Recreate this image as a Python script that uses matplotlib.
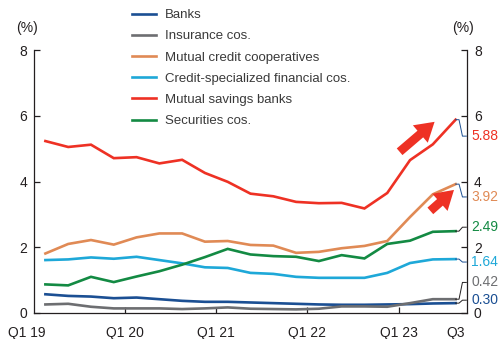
import numpy as np
import matplotlib.pyplot as plt
import matplotlib.transforms as mtransforms

# quarterly ratios (%), Q1 19 .. Q3 23
quarters = ["Q1 19", "Q2 19", "Q3 19", "Q4 19", "Q1 20", "Q2 20", "Q3 20", "Q4 20",
            "Q1 21", "Q2 21", "Q3 21", "Q4 21", "Q1 22", "Q2 22", "Q3 22", "Q4 22",
            "Q1 23", "Q2 23", "Q3 23"]
banks = [0.57, 0.52, 0.50, 0.45, 0.47, 0.42, 0.37, 0.34, 0.34, 0.32,
         0.30, 0.28, 0.26, 0.25, 0.25, 0.26, 0.27, 0.29, 0.30]
insurance = [0.26, 0.28, 0.19, 0.14, 0.14, 0.14, 0.12, 0.14, 0.17, 0.13,
             0.12, 0.11, 0.13, 0.20, 0.20, 0.19, 0.30, 0.42, 0.42]
mutual_credit = [1.81, 2.10, 2.22, 2.08, 2.30, 2.42, 2.42, 2.17, 2.19, 2.07,
                 2.05, 1.83, 1.86, 1.97, 2.04, 2.19, 2.92, 3.61, 3.92]
credit_spec = [1.61, 1.63, 1.69, 1.65, 1.71, 1.61, 1.51, 1.39, 1.37, 1.22,
               1.19, 1.10, 1.07, 1.07, 1.07, 1.22, 1.52, 1.63, 1.64]
savings = [5.23, 5.05, 5.12, 4.71, 4.74, 4.55, 4.66, 4.26, 3.99, 3.63,
           3.55, 3.38, 3.34, 3.35, 3.18, 3.65, 4.65, 5.13, 5.88]
securities = [0.87, 0.84, 1.10, 0.94, 1.11, 1.27, 1.47, 1.70, 1.95, 1.78,
              1.73, 1.71, 1.58, 1.76, 1.66, 2.10, 2.20, 2.47, 2.49]

names = ["Banks", "Insurance cos.", "Mutual credit cooperatives",
         "Credit-specialized financial cos.", "Mutual savings banks", "Securities cos."]
series = [banks, insurance, mutual_credit, credit_spec, savings, securities]
colors = ["#1b4f93", "#6d6e71", "#e08a55", "#1ea8d8", "#ee3124", "#138a43"]
# where the end labels sit on the right (value units)
label_y = [0.39, 0.93, 3.53, 1.55, 5.38, 2.61]
leader_colors = ["#231f20", "#231f20", "#1b4f93", "#1b4f93", "#1b4f93", "#231f20"]

plt.rcParams['font.family'] = ['Liberation Sans Narrow', 'Liberation Sans', 'DejaVu Sans']
dark = "#231f20"

fig = plt.figure(figsize=(5.01, 3.39), dpi=100)
ax = fig.add_axes([34 / 501, 1 - 313 / 339, 433 / 501, 263 / 339])

x = np.arange(len(quarters))
for name, vals, c in zip(names, series, colors):
    ax.plot(x, vals, color=c, lw=1.9, label=name, solid_joinstyle='miter')

# end-of-line value labels with small leader lines
last = len(quarters) - 1
for vals, c, ly, lc in zip(series, colors, label_y, leader_colors):
    v = vals[-1]
    ax.plot([last, last + 0.15, last + 0.3, last + 0.47], [v, v, ly, ly],
            color=lc, lw=0.7, clip_on=False)
    ax.text(last + 0.68, ly, f"{v:.2f}", color=c, fontsize=10,
            va='center', ha='left', clip_on=False)

# red arrows
arrow = dict(arrowstyle="simple,head_width=1.1,head_length=0.9,tail_width=0.42",
             color="#ee3124", lw=0, mutation_scale=15)
ax.annotate("", xy=(17.17, 5.87), xytext=(15.45, 4.85), arrowprops=arrow)
ax.annotate("", xy=(18.02, 3.80), xytext=(16.8, 3.05), arrowprops=arrow)

ax.set_xlim(-0.5, 18.5)
ax.set_ylim(0, 8)
ax.set_yticks([0, 2, 4, 6, 8])
ax.yaxis.set_ticks_position('both')
ax.tick_params(axis='y', direction='in', length=4, width=0.9, colors=dark,
               labelsize=10, pad=5, labelright=True)

xt = [-0.5, 3.5, 7.5, 11.5, 15.5, 18]
ax.set_xticks(xt)
ax.set_xticklabels(["Q1 19", "Q1 20", "Q1 21", "Q1 22", "Q1 23", "Q3"])
ax.tick_params(axis='x', direction='in', length=4, width=0.9, colors=dark,
               labelsize=10, pad=9)
ax.xaxis.get_major_ticks()[-1].tick1line.set_visible(False)
ax.xaxis.get_major_ticks()[0].tick1line.set_visible(False)

for s in ['left', 'right', 'bottom']:
    ax.spines[s].set_color(dark)
    ax.spines[s].set_linewidth(0.9)
ax.spines['top'].set_visible(False)

fig.text(27 / 501, 1 - 28 / 339, "(%)", ha='center', va='center', fontsize=10, color=dark)
fig.text(463 / 501, 1 - 28 / 339, "(%)", ha='center', va='center', fontsize=10, color=dark)

leg = ax.legend(loc='upper left', bbox_to_anchor=(132 / 501, 1 - 9 / 339),
                bbox_transform=fig.transFigure, frameon=False, fontsize=9.5,
                handlelength=1.8, handletextpad=0.7, labelspacing=0.68,
                borderpad=0, borderaxespad=0)
for t in leg.get_texts():
    t.set_color("#3a3a3a")

# nudge first x label left like the original
lab0 = ax.get_xticklabels()[0]
lab0.set_transform(lab0.get_transform() + mtransforms.ScaledTranslation(-7 / 100, 0, fig.dpi_scale_trans))

fig.savefig("out.png", dpi=100)
